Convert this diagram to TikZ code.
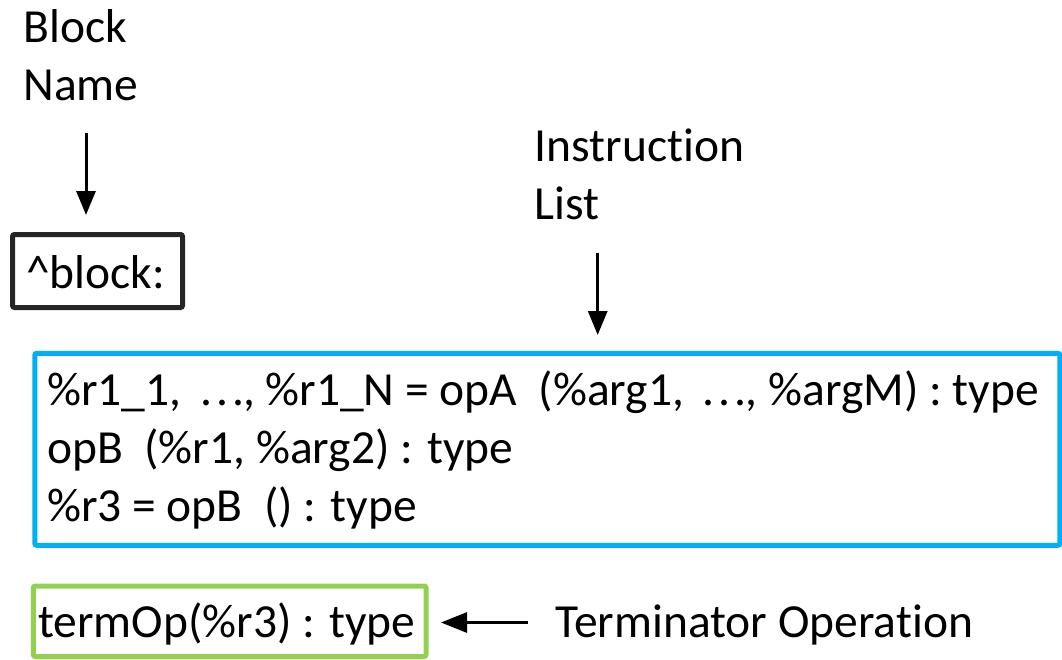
\documentclass[tikz,border=0pt]{standalone}
\usepackage{fontspec}
\setmainfont{Carlito}[Ligatures=NoCommon]
\usetikzlibrary{arrows.meta}
\definecolor{frameblack}{HTML}{262626}
\definecolor{listblue}{HTML}{00B0F0}
\definecolor{termgreen}{HTML}{92D050}
% wide three-dot ellipsis
\newcommand{\wdots}{\makebox[51pt][l]{\hspace{8pt}\rlap{.}\hspace{16pt}\rlap{.}\hspace{16pt}.}}
\begin{document}
\begin{tikzpicture}[x=1pt,y=-1pt,
  lbl/.style={anchor=base west,inner sep=0pt,font=\fontsize{47.5}{58}\selectfont},
  frame/.style={draw,line width=5pt,rounded corners=2pt,inner sep=0pt},
  pointer/.style={line width=3pt,-{Triangle[length=24pt,width=19pt]}},
  smallpointer/.style={line width=3pt,-{Triangle[length=26pt,width=20pt]}}]
\useasboundingbox (0,0) rectangle (1062,659);

% frames
\node[frame,draw=frameblack,minimum width=170pt,minimum height=73pt] (blk) at (97.5,271) {};
\node[frame,draw=listblue,minimum width=1025pt,minimum height=192pt] (lst) at (547.3,449.3) {};
\node[frame,draw=termgreen,minimum width=392.7pt,minimum height=70.5pt] (trm) at (229.65,621.25) {};

% captions
\node[lbl] (bk1) at (23.2,42.7) {Block};
\node[lbl] (bk2) at (23.2,100) {Name};
\node[lbl] (in1) at (534.7,161.7) {Instruction};
\node[lbl] (in2) at (534.7,219) {List};
\node[lbl] (tc) at (555,637) {Terminator Operation};

% frame contents
\node[lbl] (bt) at (26,288.3) {\textasciicircum block:};
\node[lbl] (l1) at (47,405) {\%r1\_1, \wdots, \%r1\_N = opA~ (\%arg1, \wdots, \%argM) : type};
\node[lbl] (l2) at (47,463) {opB~ (\%r1, \%arg2) : type};
\node[lbl] (l3) at (47,521.5) {\%r3 = opB~ () : type};
\node[lbl] (tt) at (38,637) {termOp(\%r3) : type};

% pointers
\coordinate (p1) at (86,133.3);
\coordinate (p2) at (597.7,252.7);
\coordinate (p3) at (528.3,622.5);
\draw[pointer,shorten >=17pt] (p1) -- (p1 |- blk.north);
\draw[pointer,shorten >=15.8pt] (p2) -- (p2 |- lst.north);
\draw[smallpointer,shorten >=12.5pt] (p3) -- (p3 -| trm.east);
\end{tikzpicture}
\end{document}
